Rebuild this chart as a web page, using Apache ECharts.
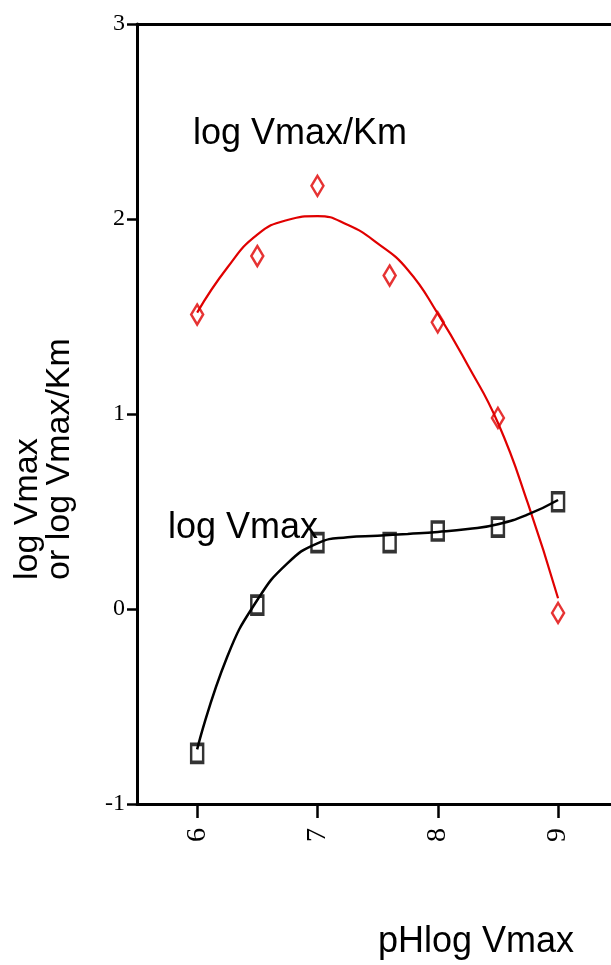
<!DOCTYPE html>
<html>
<head>
<meta charset="utf-8">
<script src="https://cdn.jsdelivr.net/npm/echarts@6/dist/echarts.min.js"></script>
<style>html,body{margin:0;padding:0;background:#fff;}#c{width:611px;height:965px;}</style>
</head>
<body>
<div id="c"></div>
<script>
// measured points
const phPoints = [6, 6.5, 7, 7.6, 8, 8.5, 9];
const logVmaxKmPoints = [1.51, 1.81, 2.17, 1.71, 1.47, 0.98, -0.02];
const logVmaxPoints = [-0.74, 0.02, 0.34, 0.34, 0.40, 0.42, 0.55];
// fitted curves
const redCurveX = [6, 6.25, 6.5, 6.75, 7, 7.25, 7.5, 7.75, 8, 8.25, 8.5, 8.75, 9];
const redCurveY = [1.52, 1.75, 1.92, 1.995, 2.015, 1.97, 1.875, 1.74, 1.515, 1.25, 0.955, 0.54, 0.055];
const blackCurveX = [6, 6.25, 6.5, 6.75, 7, 7.25, 7.5, 7.75, 8, 8.25, 8.5, 8.75, 9];
const blackCurveY = [-0.72, -0.245, 0.046, 0.234, 0.337, 0.368, 0.376, 0.385, 0.395, 0.41, 0.435, 0.485, 0.559];
// axis ticks
const xTicks = [6, 7, 8, 9];
const yTicks = [-1, 0, 1, 2, 3];

const zip = (a, b) => a.map((v, i) => [v, b[i]]);
const RED = '#e00000';
const X_MIN = 5.5, X_MAX = 9.44;

const chart = echarts.init(document.getElementById('c'), null, {renderer: 'canvas'});
chart.setOption({
  animation: false,
  backgroundColor: '#fff',
  grid: {left: 137, top: 24, right: 0, bottom: 161},
  xAxis: [{
    type: 'value', min: X_MIN, max: X_MAX, position: 'bottom',
    splitLine: {show: false},
    axisLine: {show: true, onZero: false, lineStyle: {color: '#000', width: 3}},
    axisTick: {show: true, length: 14, lineStyle: {color: '#000', width: 2.5}, customValues: xTicks},
    axisLabel: {show: true, rotate: 90, margin: 24, color: '#000', fontFamily: 'Liberation Serif', fontSize: 28, customValues: xTicks}
  }, {
    type: 'value', min: X_MIN, max: X_MAX, position: 'top',
    splitLine: {show: false},
    axisLine: {show: true, onZero: false, lineStyle: {color: '#000', width: 3}},
    axisTick: {show: false},
    axisLabel: {show: false}
  }],
  yAxis: {
    type: 'value', min: -1, max: 3, interval: 1,
    splitLine: {show: false},
    axisLine: {show: true, onZero: false, lineStyle: {color: '#000', width: 3}},
    axisTick: {show: true, length: 10, lineStyle: {color: '#000', width: 2.5}},
    axisLabel: {show: true, margin: 12, color: '#000', fontFamily: 'Liberation Serif', fontSize: 24, customValues: yTicks}
  },
  series: [
    {type: 'line', data: zip(redCurveX, redCurveY), smooth: true, showSymbol: false, lineStyle: {color: RED, width: 2.2}, silent: true},
    {type: 'line', data: zip(blackCurveX, blackCurveY), smooth: true, showSymbol: false, lineStyle: {color: '#000', width: 2.5}, silent: true},
    {type: 'scatter', data: zip(phPoints, logVmaxKmPoints), symbol: 'diamond', symbolSize: [12, 20], itemStyle: {color: 'rgba(0,0,0,0)', borderColor: RED, borderWidth: 2.6}},
    {type: 'scatter', data: zip(phPoints, logVmaxPoints), symbol: 'rect', symbolSize: [12, 18], itemStyle: {color: 'rgba(0,0,0,0)', borderColor: '#000', borderWidth: 3}}
  ],
  graphic: [
    {type: 'text', left: 193, top: 116, style: {text: 'log Vmax/Km', fill: '#000', font: '36px "Liberation Sans"'}},
    {type: 'text', left: 168, top: 510, style: {text: 'log Vmax', fill: '#000', font: '36px "Liberation Sans"'}},
    {type: 'text', left: 378, top: 924, style: {text: 'pHlog Vmax', fill: '#000', font: '36px "Liberation Sans"'}},
    {type: 'text', x: 28, y: 580, rotation: Math.PI / 2, style: {text: 'log Vmax', fill: '#000', font: '34px "Liberation Sans"', align: 'left', verticalAlign: 'middle'}},
    {type: 'text', x: 60, y: 580, rotation: Math.PI / 2, style: {text: 'or log Vmax/Km', fill: '#000', font: '34px "Liberation Sans"', align: 'left', verticalAlign: 'middle'}}
  ]
});
</script>
</body>
</html>
